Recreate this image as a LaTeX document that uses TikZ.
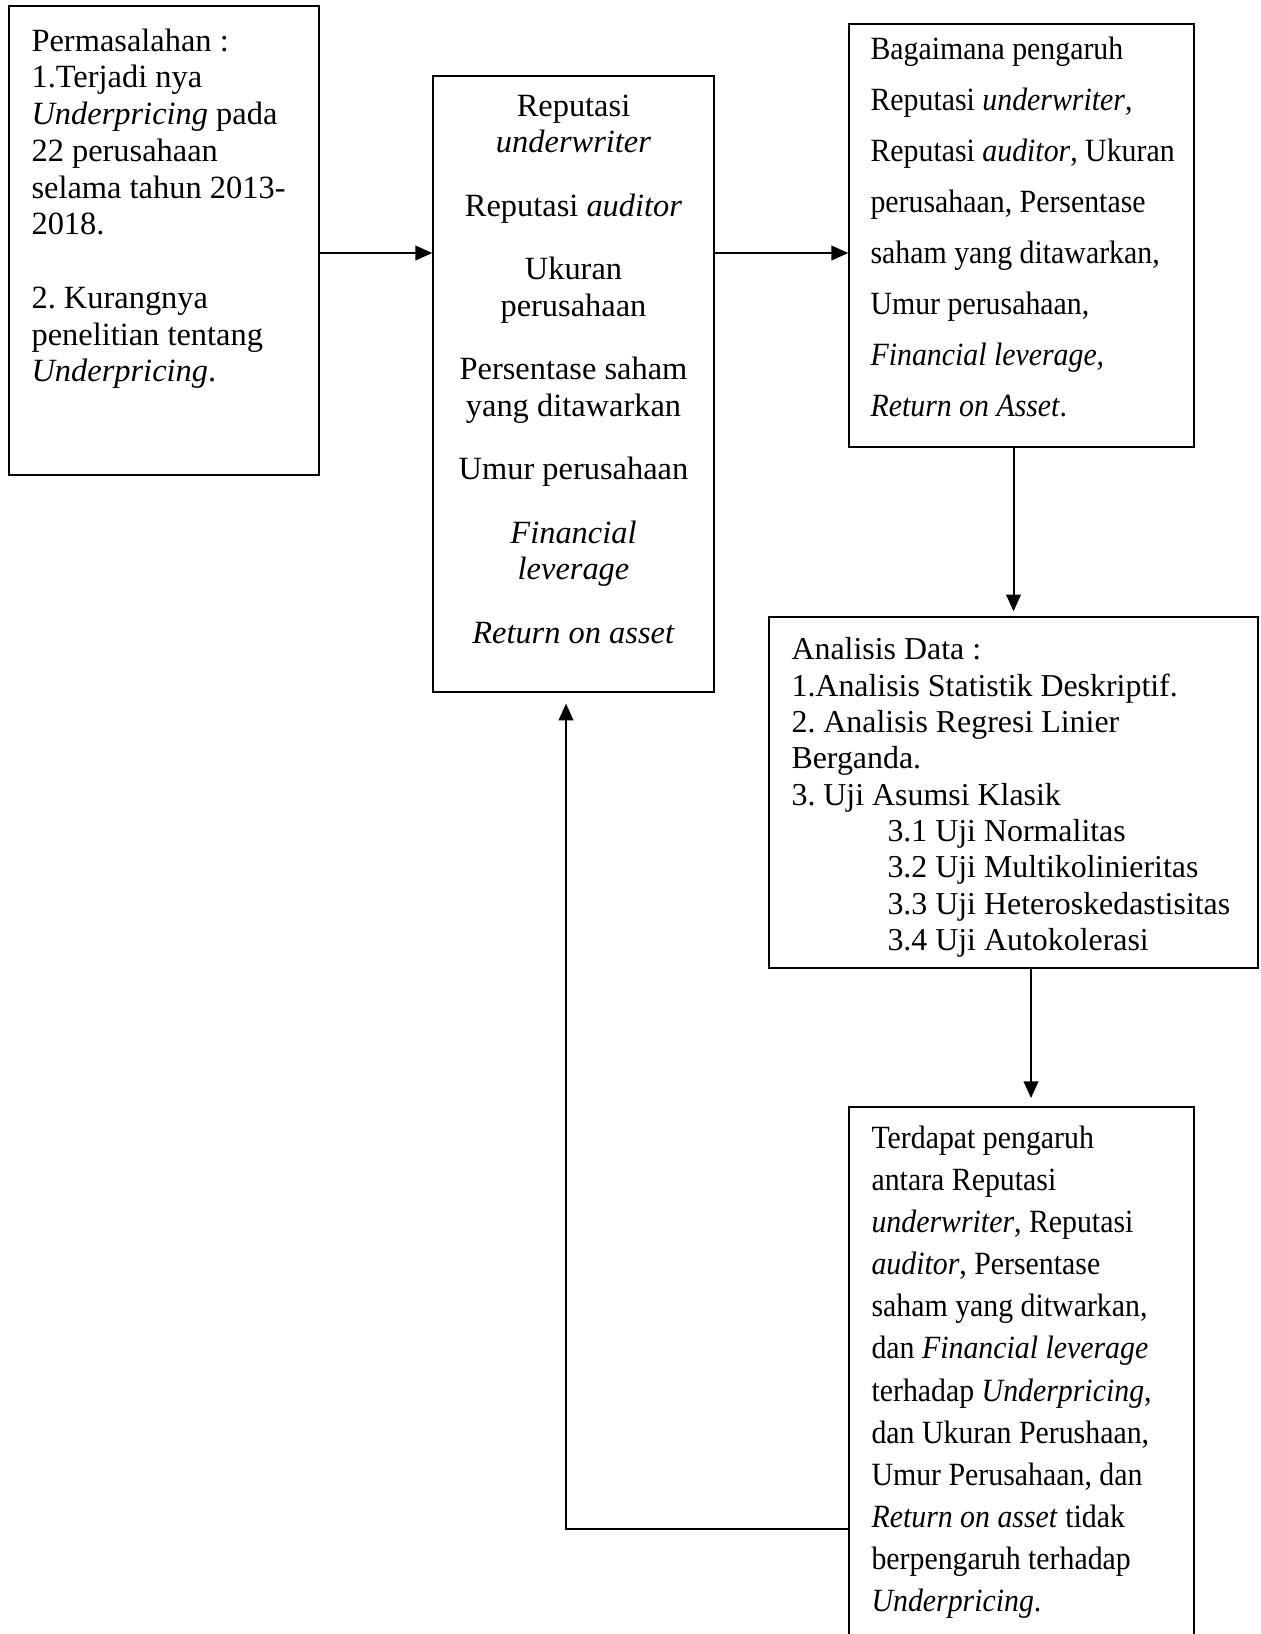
\documentclass[tikz,border=0pt]{standalone}
\usepackage{fontspec}
\setmainfont{Liberation Serif}
\newfontfamily\narrowserif[FakeStretch=0.92]{Liberation Serif}
\usepackage{tikz}
\usetikzlibrary{arrows.meta, positioning, calc, fit}
\frenchspacing

\begin{document}
\begin{tikzpicture}[
    x=0.37pt, y=-0.37pt,
    >={Triangle[length=6.2pt, width=5.4pt]},
    box/.style={draw, line width=0.6pt, inner sep=0pt},
    arrow/.style={->, line width=0.75pt},
    txt/.style={inner sep=0pt, anchor=north west, align=left},
]
    \useasboundingbox (0,0) rectangle (1260,1634);

    % --- boxes ---
    \node[box, fit={(9,6) (319,475)}] (masalah) {};
    \node[box, fit={(433,76) (714,692)}] (variabel) {};
    \node[box, fit={(849,24) (1194,447)}] (rumusan) {};
    \node[box, fit={(769,617) (1258,968)}] (analisis) {};
    \node[box, fit={(849,1107) (1194,1660)}] (hasil) {};

    % --- texts ---
    \node[txt, font=\fontsize{12}{13.6}\selectfont] (tmasalah) at (31,28) {Permasalahan :\\
        1.Terjadi nya\\
        \textit{Underpricing} pada\\
        22 perusahaan\\
        selama tahun 2013-\\
        2018.\\[13.6pt]
        2. Kurangnya\\
        penelitian tentang\\
        \textit{Underpricing}.};
    \node[txt, anchor=north, align=center, font=\fontsize{12}{13.5}\selectfont] (tvariabel) at (573.5,94) {Reputasi\\
        \textit{underwriter}\\[10pt]
        Reputasi \textit{auditor}\\[10pt]
        Ukuran\\
        perusahaan\\[10pt]
        Persentase saham\\
        yang ditawarkan\\[10pt]
        Umur perusahaan\\[10pt]
        \textit{Financial}\\
        \textit{leverage}\\[10pt]
        \textit{Return on asset}};
    \node[txt, font=\narrowserif\fontsize{12}{18.9}\selectfont] (trumusan) at (870,36) {Bagaimana pengaruh\\
        Reputasi \textit{underwriter},\\
        Reputasi \textit{auditor}, Ukuran\\
        perusahaan, Persentase\\
        saham yang ditawarkan,\\
        Umur perusahaan,\\
        \textit{Financial leverage},\\
        \textit{Return on Asset}.};
    \node[txt, font=\fontsize{11.8}{13.45}\selectfont] (tanalisis) at (791,637) {Analisis Data :\\
        1.Analisis Statistik Deskriptif.\\
        2. Analisis Regresi Linier\\
        Berganda.\\
        3. Uji Asumsi Klasik\\
        \hspace*{35.5pt}3.1 Uji Normalitas\\
        \hspace*{35.5pt}3.2 Uji Multikolinieritas\\
        \hspace*{35.5pt}3.3 Uji Heteroskedastisitas\\
        \hspace*{35.5pt}3.4 Uji Autokolerasi};
    \node[txt, font=\narrowserif\fontsize{12}{15.6}\selectfont] (thasil) at (871,1125) {Terdapat pengaruh\\
        antara Reputasi\\
        \textit{underwriter}, Reputasi\\
        \textit{auditor}, Persentase\\
        saham yang ditwarkan,\\
        dan \textit{Financial leverage}\\
        terhadap \textit{Underpricing},\\
        dan Ukuran Perushaan,\\
        Umur Perusahaan, dan\\
        \textit{Return on asset} tidak\\
        berpengaruh terhadap\\
        \textit{Underpricing}.};

    % --- connectors ---
    \coordinate (a1) at (0,253);
    \coordinate (a4) at (1031,0);
    \coordinate (a5) at (566,1529);
    \draw[arrow] (masalah.east |- a1) -- (variabel.west |- a1);
    \draw[arrow] (variabel.east |- a1) -- (rumusan.west |- a1);
    \draw[arrow, shorten >=1.8pt] (rumusan.south -| analisis.north) -- (analisis.north);
    \draw[arrow, shorten >=3pt] (analisis.south -| a4) -- (hasil.north -| a4);
    \draw[arrow, shorten >=4pt] (hasil.west |- a5) -| (variabel.south -| a5);
\end{tikzpicture}
\end{document}
